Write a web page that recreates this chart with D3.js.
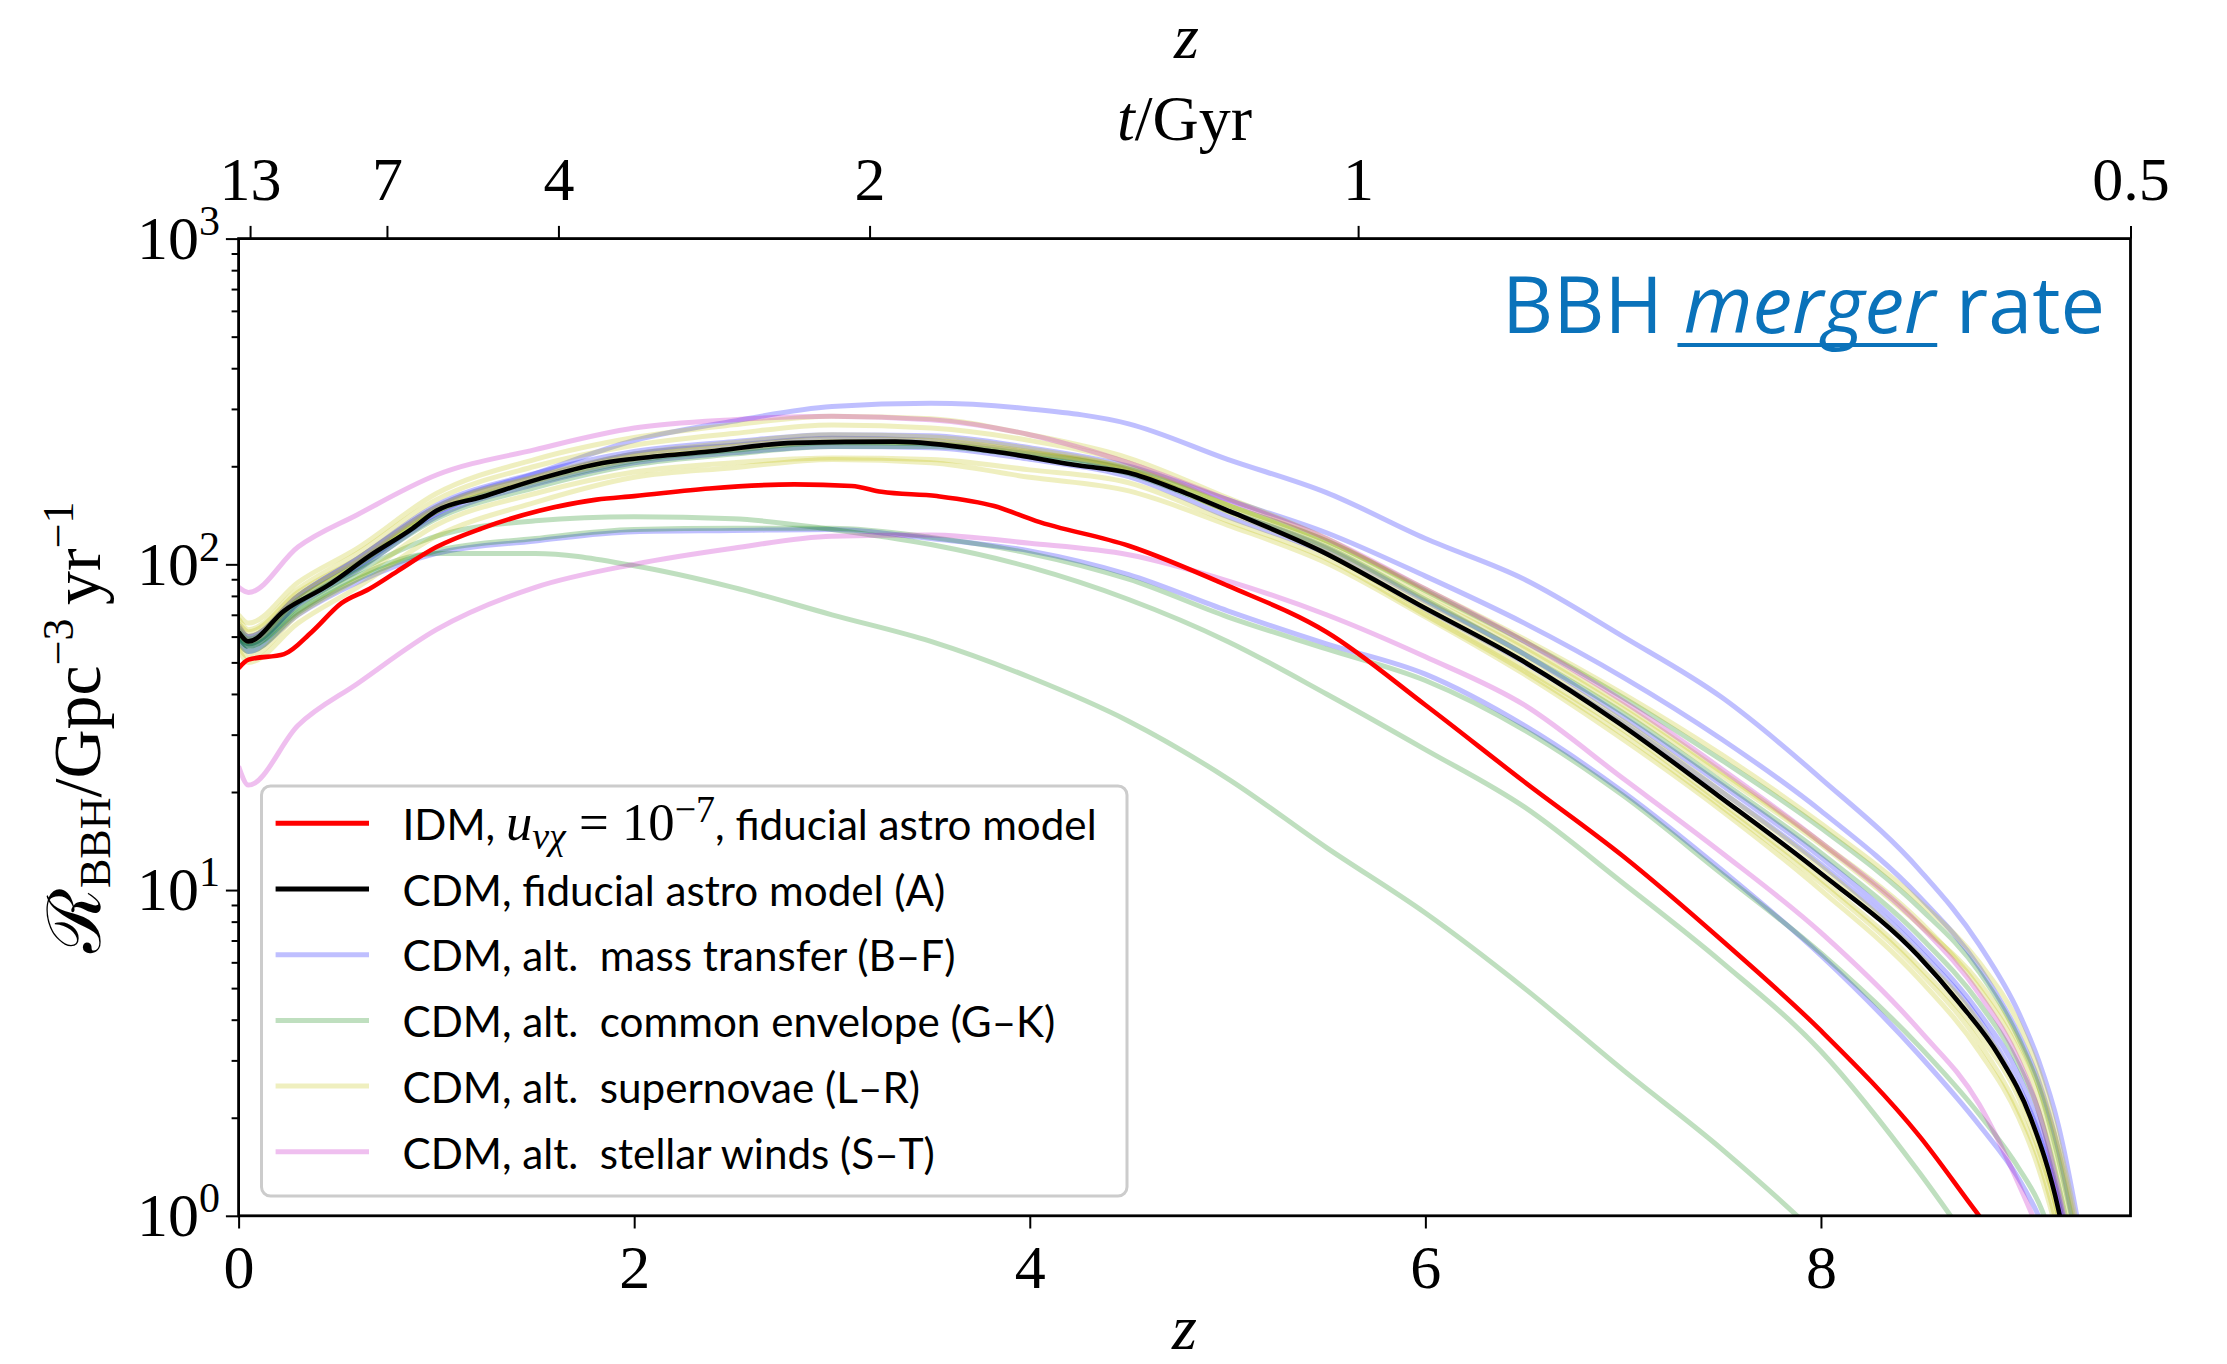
<!DOCTYPE html>
<html>
<head>
<meta charset="utf-8">
<script src="https://cdn.jsdelivr.net/npm/d3@7"></script>
<style>
  body { margin: 0; background: #fff; }
  svg { display: block; }
</style>
</head>
<body>
<svg id="chart" width="2227" height="1364"></svg>
<script>
// ---------------- DATA ----------------
const zMax = 9.565;                        // right edge of the z axis (t = 0.5 Gyr)
const zTicks = [0, 2, 4, 6, 8];
const yMajorTicks = [1, 10, 100, 1000];
const yExponents = ["0", "1", "2", "3"];
const tTickLabels = ["13", "7", "4", "2", "1", "0.5"];
const tTickZ = [0.058, 0.75, 1.617, 3.19, 5.66, 9.565];

// CDM fiducial (A)
const zFiducial = [0, 0.05, 0.23, 0.45, 0.66, 0.88, 1.0, 1.23, 1.52, 1.81, 2.0, 2.38, 2.81, 3.32, 3.82, 4.25, 4.5, 4.75, 5.04, 5.47, 5.97, 6.48, 6.98, 7.48, 7.98, 8.49, 8.7, 8.9, 9.06, 9.2, 9.3];
const rateFiducial = [62, 58, 72, 86, 106, 129, 146, 161, 183, 203, 211, 222, 236, 238, 222, 201, 191, 169, 143, 110, 75, 51, 32.5, 19.5, 11.5, 6.3, 4.5, 3.1, 2.0, 1.05, 0.5];

// IDM, u = 1e-7
const zIDM = [0, 0.05, 0.23, 0.37, 0.52, 0.66, 0.8, 1.0, 1.23, 1.52, 1.81, 2.0, 2.38, 2.81, 3.1, 3.25, 3.53, 3.82, 4.03, 4.5, 5.0, 5.5, 6.0, 6.5, 7.0, 7.5, 8.0, 8.5, 8.8, 9.0];
const rateIDM = [48, 51, 53, 62, 76, 84, 95, 113, 129, 146, 158, 162, 171, 176, 174, 167, 162, 151, 136, 114, 86, 62, 37, 21.5, 12.7, 7.0, 3.7, 1.75, 1.0, 0.7];

// common redshift grid for the alternative astro models
const zGrid = [0, 0.05, 0.3, 0.6, 1.0, 1.5, 2.0, 2.5, 3.0, 3.5, 4.0, 4.5, 5.0, 5.5, 6.0, 6.5, 7.0, 7.5, 8.0, 8.5, 8.8, 9.0, 9.1, 9.2, 9.3, 9.4];

// alt. mass transfer (B–F)
const massTransferB = [65, 60, 80, 104, 150, 190, 240, 275, 305, 312, 300, 270, 210, 166, 120, 90, 60, 39, 22, 11.5, 6.8, 4.2, 3.0, 1.9, 0.95, 0.4];
const massTransferC = [64, 60, 80, 104, 152, 190, 222, 238, 250, 248, 228, 200, 158, 125, 92, 66, 45, 29, 17.5, 9.5, 5.8, 3.6, 2.6, 1.6, 0.8, 0.4];
const massTransferD = [60, 56, 76, 98, 143, 183, 218, 232, 244, 240, 220, 194, 146, 112, 77, 53, 34, 21, 12.6, 6.8, 4.2, 2.7, 1.9, 1.15, 0.6, 0.3];
const massTransferE = [60, 57, 75, 96, 140, 176, 205, 220, 230, 228, 210, 186, 140, 108, 73, 50, 32.5, 20, 12, 6.5, 4.0, 2.5, 1.8, 1.1, 0.55, 0.3];
const massTransferF = [58, 54, 70, 88, 108, 118, 126, 127, 128, 120, 110, 93, 72, 57, 46, 32, 20, 11.5, 6.3, 3.1, 1.9, 1.3, 1.0, 0.7, 0.4, 0.2];

// alt. common envelope (G–K)
const commonEnvG = [60, 56, 72, 92, 108, 108, 99, 85, 70, 58, 45, 33, 22, 13.5, 8.5, 5.0, 2.8, 1.6, 0.85, 0.4, 0.3, 0.2, 0.2, 0.2, 0.2, 0.2];
const commonEnvH = [60, 56, 74, 95, 122, 136, 140, 138, 128, 115, 98, 78, 58, 40, 27, 18, 10.5, 6.0, 3.2, 1.35, 0.75, 0.5, 0.4, 0.3, 0.2, 0.2];
const commonEnvI = [58, 54, 71, 90, 110, 120, 128, 129, 129, 121, 108, 90, 69, 55, 44, 31, 19.5, 11.2, 6.4, 3.3, 2.05, 1.4, 1.1, 0.75, 0.45, 0.2];
const commonEnvJ = [63, 59, 78, 100, 145, 178, 208, 224, 236, 234, 218, 196, 152, 118, 83, 58, 39, 25, 15.5, 8.8, 5.6, 3.5, 2.5, 1.5, 0.8, 0.4];
const commonEnvK = [61, 57, 76, 97, 138, 172, 202, 218, 230, 230, 214, 190, 146, 113, 78, 53, 35, 21.5, 13, 7.2, 4.5, 2.9, 2.1, 1.25, 0.65, 0.3];

// alt. supernovae (L–R)
const supernovaL = [70, 66, 88, 112, 165, 210, 245, 268, 285, 280, 250, 212, 160, 120, 82, 56, 37, 23, 14, 8.0, 5.0, 3.2, 2.3, 1.4, 0.7, 0.3];
const supernovaM = [68, 63, 84, 108, 158, 200, 232, 252, 268, 262, 240, 205, 152, 115, 79, 55, 36, 22.5, 13.8, 7.8, 5.2, 3.4, 2.5, 1.6, 0.85, 0.4];
const supernovaN = [64, 60, 80, 102, 148, 185, 215, 230, 242, 240, 222, 194, 146, 111, 75, 51, 33, 20, 11.8, 6.3, 3.9, 2.4, 1.7, 1.0, 0.5, 0.25];
const supernovaO = [56, 52, 70, 90, 132, 165, 192, 205, 212, 210, 195, 178, 136, 104, 70, 47, 30, 18, 10.5, 5.6, 3.4, 2.1, 1.5, 0.9, 0.45, 0.2];
const supernovaP = [55, 50, 66, 85, 122, 155, 185, 198, 210, 205, 185, 168, 132, 101, 69, 46, 29, 17.5, 10, 5.3, 3.2, 2.0, 1.4, 0.85, 0.4, 0.2];
const supernovaQ = [66, 62, 82, 104, 150, 186, 218, 236, 250, 246, 226, 196, 145, 108, 72, 48, 31, 18.5, 10.8, 5.8, 3.6, 2.3, 1.6, 1.0, 0.5, 0.25];
const supernovaR = [62, 58, 78, 100, 145, 180, 210, 226, 238, 236, 220, 198, 152, 118, 84, 59, 40, 26, 16, 9.2, 6.0, 3.9, 2.8, 1.7, 0.9, 0.4];

// alt. stellar winds (S–T)
const stellarWindS = [85, 82, 113, 142, 188, 225, 262, 278, 285, 278, 250, 205, 158, 120, 84, 58, 38, 23.5, 14, 7.8, 4.8, 3.0, 2.1, 1.2, 0.6, 0.3];
const stellarWindT = [24, 21, 32, 43, 63, 85, 100, 112, 122, 123, 116, 107, 89, 70, 52, 37, 22, 13, 7.4, 3.7, 2.2, 1.25, 0.9, 0.6, 0.4, 0.2];

const legendLabels = [
  "IDM",
  "CDM, fiducial astro model (A)",
  "CDM, alt.\u00A0 mass transfer (B\u2013F)",
  "CDM, alt.\u00A0 common envelope (G\u2013K)",
  "CDM, alt.\u00A0 supernovae (L\u2013R)",
  "CDM, alt.\u00A0 stellar winds (S\u2013T)"
];

// ---------------- STYLES ----------------
const C = {
  idm: "#ff0000", cdm: "#000000",
  mass: "#0000ff", env: "#008000", sn: "#bfbf00", wind: "#bf00bf",
  title: "#0a72ba"
};
const ALT_OPACITY = 0.25;
const SERIF = "'Liberation Serif', 'DejaVu Serif', serif";
const SANS = "Lato, 'Open Sans', sans-serif";

// ---------------- LAYOUT ----------------
const X0 = 238.6, X1 = 2130.5, Y0 = 238.6, Y1 = 1215.8;
const svg = d3.select("#chart");
const x = d3.scaleLinear().domain([0, zMax]).range([X0, X1]);
const y = d3.scaleLog().domain([1, 1000]).range([Y1, Y0]);

svg.append("defs").append("clipPath").attr("id", "plotclip")
  .append("rect").attr("x", X0).attr("y", Y0).attr("width", X1 - X0).attr("height", Y1 - Y0);

const line = d3.line()
  .x(d => x(d[0]))
  .y(d => y(Math.max(d[1], 0.05)))
  .curve(d3.curveMonotoneX);

const plot = svg.append("g").attr("clip-path", "url(#plotclip)");

const altGroups = [
  { color: C.mass, series: [massTransferB, massTransferC, massTransferD, massTransferE, massTransferF] },
  { color: C.env, series: [commonEnvG, commonEnvH, commonEnvI, commonEnvJ, commonEnvK] },
  { color: C.sn, series: [supernovaL, supernovaM, supernovaN, supernovaO, supernovaP, supernovaQ, supernovaR] },
  { color: C.wind, series: [stellarWindS, stellarWindT] }
];
altGroups.forEach(g => {
  g.series.forEach(vals => {
    const pts = zGrid.map((z, i) => [z, vals[i]]).filter(p => p[1] !== undefined);
    plot.append("path").attr("d", line(pts))
      .attr("fill", "none").attr("stroke", g.color)
      .attr("stroke-opacity", ALT_OPACITY).attr("stroke-width", 5)
      .attr("stroke-linejoin", "round").attr("stroke-linecap", "butt");
  });
});
plot.append("path").attr("d", line(zFiducial.map((z, i) => [z, rateFiducial[i]])))
  .attr("fill", "none").attr("stroke", C.cdm).attr("stroke-width", 4.6).attr("stroke-linejoin", "round");
plot.append("path").attr("d", line(zIDM.map((z, i) => [z, rateIDM[i]])))
  .attr("fill", "none").attr("stroke", C.idm).attr("stroke-width", 4.6).attr("stroke-linejoin", "round");

// ---------------- AXES ----------------
function styleAxis(g, fs) {
  g.select(".domain").remove();
  g.selectAll(".tick line").attr("stroke", "#000").attr("stroke-width", 2);
  g.selectAll(".tick text").attr("fill", "#000").attr("font-family", SERIF).attr("font-size", fs);
}
const gBottom = svg.append("g").attr("transform", `translate(0,${Y1})`)
  .call(d3.axisBottom(x).tickValues(zTicks).tickSize(12.7).tickPadding(15).tickFormat(d3.format("d")));
styleAxis(gBottom, 62);

const gTop = svg.append("g").attr("transform", `translate(0,${Y0})`)
  .call(d3.axisTop(x).tickValues(tTickZ).tickSize(12.7).tickPadding(26).tickFormat((d, i) => tTickLabels[i]));
styleAxis(gTop, 62);

const minorVals = [];
[1, 10, 100].forEach(b => { for (let k = 2; k <= 9; k++) minorVals.push(b * k); });
const gMinor = svg.append("g").attr("transform", `translate(${X0},0)`)
  .call(d3.axisLeft(y).tickValues(minorVals).tickSize(7).tickFormat(""));
styleAxis(gMinor, 10);

const gLeft = svg.append("g").attr("transform", `translate(${X0},0)`)
  .call(d3.axisLeft(y).tickValues(yMajorTicks).tickSize(12.7).tickPadding(6).tickFormat(""));
styleAxis(gLeft, 62);
gLeft.selectAll(".tick text").each(function (d, i) {
  const t = d3.select(this);
  t.text(null);
  t.append("tspan").text("10");
  t.append("tspan").attr("font-size", 42).attr("dy", -24).text(yExponents[i]);
});

// frame
svg.append("rect").attr("x", X0).attr("y", Y0).attr("width", X1 - X0).attr("height", Y1 - Y0)
  .attr("fill", "none").attr("stroke", "#000").attr("stroke-width", 2.8);

// ---------------- AXIS LABELS ----------------
svg.append("text").attr("x", (X0 + X1) / 2).attr("y", 1349).attr("text-anchor", "middle")
  .attr("font-family", SERIF).attr("font-style", "italic").attr("font-size", 64).text("z");
svg.append("text").attr("x", (X0 + X1) / 2 + 2).attr("y", 58).attr("text-anchor", "middle")
  .attr("font-family", SERIF).attr("font-style", "italic").attr("font-size", 64).text("z");
const tl = svg.append("text").attr("x", (X0 + X1) / 2).attr("y", 140).attr("text-anchor", "middle")
  .attr("font-family", SERIF).attr("font-size", 64);
tl.append("tspan").attr("font-style", "italic").text("t");
tl.append("tspan").text("/Gyr");

const yl = svg.append("text").attr("transform", `translate(100,${(Y0 + Y1) / 2}) rotate(-90)`)
  .attr("text-anchor", "middle").attr("font-family", SERIF).attr("font-size", 68);
yl.append("tspan").attr("font-size", 74).text("\u211B");
yl.append("tspan").attr("font-size", 44).attr("dy", 10).text("BBH");
yl.append("tspan").attr("dy", -10).text("/Gpc");
yl.append("tspan").attr("font-size", 44).attr("dy", -27).text("\u22123");
yl.append("tspan").attr("dy", 27).text("\u2009yr");
yl.append("tspan").attr("font-size", 44).attr("dy", -27).text("\u22121");

// ---------------- TITLE ----------------
function measure(str, family, size, style) {
  const p = svg.append("text").attr("font-family", family).attr("font-size", size)
    .attr("font-style", style || "normal").text(str);
  const w = p.node().getComputedTextLength();
  p.remove();
  return w;
}
const titleTarget = 603;
const title = svg.append("text").attr("x", 2105).attr("y", 333).attr("text-anchor", "end")
  .attr("font-family", "'Open Sans', sans-serif").attr("font-size", 80).attr("fill", C.title)
  .style("white-space", "pre");
title.append("tspan").text("BBH ");
title.append("tspan").attr("font-style", "italic").text("merger");
title.append("tspan").text(" rate");
{
  const w0 = title.node().getComputedTextLength();
  title.attr("font-size", 80 * titleTarget / w0);
  const n = title.node();
  const xs = n.getStartPositionOfChar(4).x;
  const xe = n.getEndPositionOfChar(9).x;
  svg.append("line").attr("x1", xs - 6).attr("x2", xe + 2).attr("y1", 345).attr("y2", 345)
    .attr("stroke", C.title).attr("stroke-width", 4);
}

// ---------------- LEGEND ----------------
const legendColors = [C.idm, C.cdm, C.mass, C.env, C.sn, C.wind];
const legendOpac = [1, 1, ALT_OPACITY, ALT_OPACITY, ALT_OPACITY, ALT_OPACITY];
const lfs = 40 * 653 / measure(legendLabels[3], SANS, 40);
const lg = svg.append("g");
lg.append("rect").attr("x", 261.5).attr("y", 786).attr("width", 865.5).attr("height", 410)
  .attr("rx", 9).attr("fill", "#fff").attr("fill-opacity", 0.8)
  .attr("stroke", "#cccccc").attr("stroke-width", 3);
legendLabels.forEach((lab, i) => {
  const cy = 823.3 + i * 65.7;
  lg.append("line").attr("x1", 275.6).attr("x2", 369).attr("y1", cy).attr("y2", cy)
    .attr("stroke", legendColors[i]).attr("stroke-opacity", legendOpac[i]).attr("stroke-width", 5);
  const t = lg.append("text").attr("x", 402.5).attr("y", cy + 16.7)
    .attr("font-family", SANS).attr("font-size", lfs).attr("fill", "#000").style("white-space", "pre");
  if (i === 0) {
    t.append("tspan").text("IDM, ");
    t.append("tspan").attr("font-family", SERIF).attr("font-style", "italic").attr("font-size", lfs * 1.25).text("u");
    t.append("tspan").attr("font-family", SERIF).attr("font-style", "italic").attr("font-size", lfs * 0.9).attr("dy", 9).text("\u03BD\u03C7");
    t.append("tspan").attr("font-family", SERIF).attr("font-size", lfs * 1.25).attr("dy", -9).text(" = 10");
    t.append("tspan").attr("font-family", SERIF).attr("font-size", lfs * 0.9).attr("dy", -18).text("\u22127");
    t.append("tspan").attr("dy", 18).text(", fiducial astro model");
  } else {
    t.text(lab);
  }
});
</script>
</body>
</html>
